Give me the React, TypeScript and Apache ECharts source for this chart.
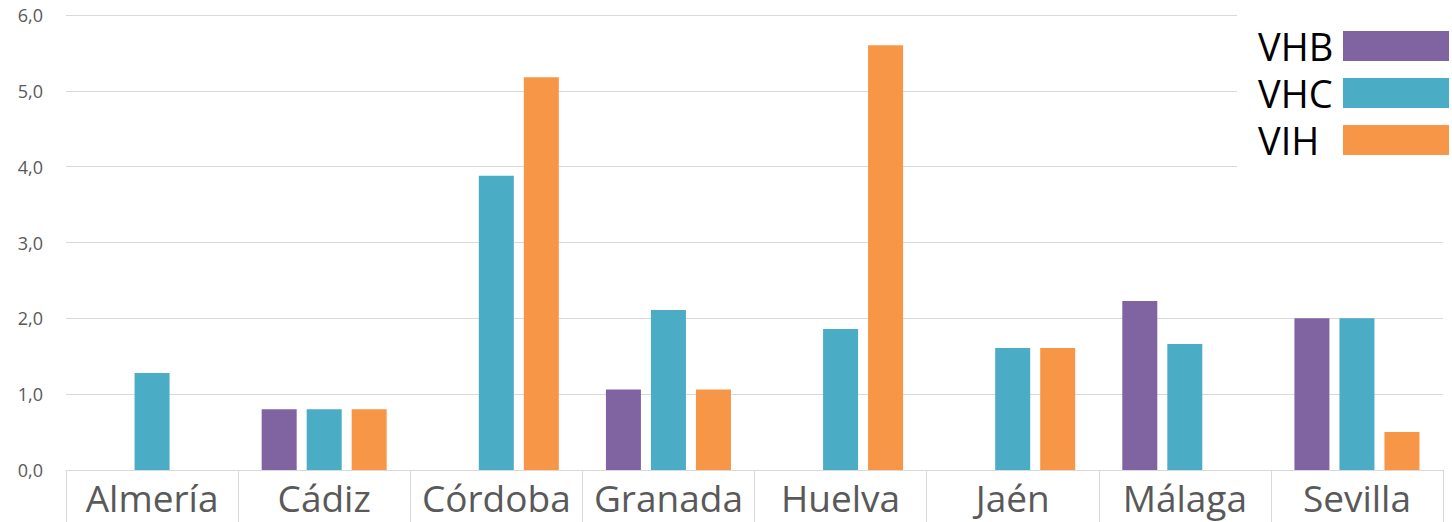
import React, { useEffect, useRef } from "react";
import * as echarts from "echarts";

const categories = ["Almería", "Cádiz", "Córdoba", "Granada", "Huelva", "Jaén", "Málaga", "Sevilla"];
const vhb = [0, 0.8, 0, 1.06, 0, 0, 2.23, 2.0];
const vhc = [1.28, 0.8, 3.88, 2.11, 1.86, 1.61, 1.66, 2.0];
const vih = [0, 0.8, 5.18, 1.06, 5.6, 1.61, 0, 0.5];
const seriesNames = ["VHB", "VHC", "VIH"];
const colors = ["#8064A2", "#4BACC6", "#F79646"];

export default function App() {
  const ref = useRef<HTMLDivElement>(null);
  useEffect(() => {
    if (!ref.current) return;
    const chart = echarts.init(ref.current, undefined, { renderer: "svg" });
    const data = [vhb, vhc, vih];
    chart.setOption({
      animation: false,
      textStyle: { fontFamily: "Open Sans" },
      grid: { left: 66, right: 9, top: 15, bottom: 52 },
      legend: {
        orient: "vertical",
        right: 0,
        top: 10,
        align: "right",
        padding: [17, 3, 10, 21],
        backgroundColor: "#ffffff",
        itemWidth: 106,
        itemHeight: 30,
        itemGap: 9,
        icon: "rect",
        formatter: (n: string) => "{a|" + n + "}",
        textStyle: {
          fontSize: 38,
          color: "#000000",
          fontFamily: "Open Sans",
          rich: {
            a: { width: 80, align: "left", fontSize: 38, lineHeight: 38, color: "#000000", fontFamily: "Open Sans" },
          },
        },
        data: seriesNames,
      },
      xAxis: {
        type: "category",
        data: categories,
        axisLine: { lineStyle: { color: "#d9d9d9", width: 1 } },
        axisTick: { show: true, interval: 0, length: 52, lineStyle: { color: "#d9d9d9" } },
        axisLabel: { interval: 0, hideOverlap: false, fontSize: 37, color: "#595959", margin: 9, fontFamily: "Open Sans" },
      },
      yAxis: {
        type: "value",
        min: 0,
        max: 6,
        interval: 1,
        axisLine: { show: false },
        axisTick: { show: false },
        splitLine: { lineStyle: { color: "#d9d9d9", width: 1 } },
        axisLabel: {
          fontSize: 18,
          color: "#595959",
          margin: 23,
          formatter: (v: number) => v.toFixed(1).replace(".", ","),
        },
      },
      series: seriesNames.map((name, i) => ({
        name,
        type: "bar",
        data: data[i],
        barWidth: 35,
        barGap: "28.6%",
        itemStyle: { color: colors[i] },
      })),
    });
    return () => chart.dispose();
  }, []);
  return (
    <div
      ref={ref}
      style={{ position: "fixed", left: 0, top: 0, width: 1452, height: 522, background: "#fff" }}
    />
  );
}
